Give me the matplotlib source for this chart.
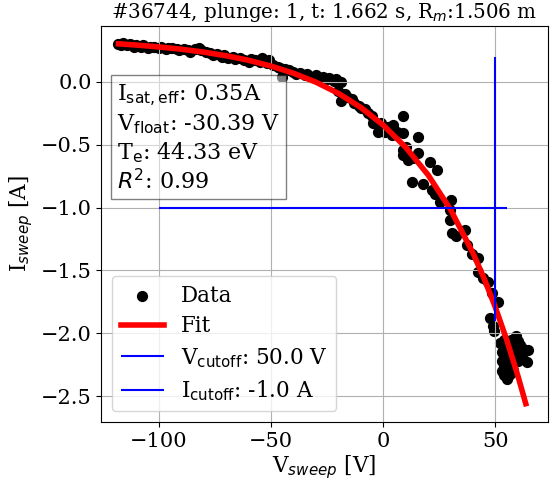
import matplotlib
matplotlib.use('Agg')
import matplotlib.pyplot as plt
import numpy as np

plt.rcParams['font.family'] = 'serif'
plt.rcParams['font.size'] = 16
plt.rcParams['xtick.labelsize'] = 15
plt.rcParams['ytick.labelsize'] = 15
plt.rcParams['axes.labelsize'] = 15.5
plt.rcParams['legend.fontsize'] = 15.5

# measured sweep points
v_data = [-118, -117, -116, -114, -113, -111, -110, -108, -107, -105, -104, -102,
          -100, -99, -97, -96, -94, -92, -91, -89, -87, -86, -84, -82, -81, -79,
          -77, -76, -74, -72, -71, -69, -67, -66, -64, -62, -60, -59, -57, -55,
          -54, -52, -51, -49, -47, -46, -45, -44, -42, -40, -39, -37, -35, -34,
          -32, -30, -29, -27, -25, -24, -22, -21, -20, -19,
          -20, -19, -17, -16, -14, -13, -11, -10, -8, -7, -5, -4.6, -2.4, -1,
          0.8, 2, 3.9, 4.4, 6, 8.8, 8.8, 8.8, 8.8, 10, 11, 12.7, 13.4, 15.5,
          15.5, 17.7, 20.8, 21.7, 23, 23.9, 25.2, 30.4, 29.7, 29.7, 30.6, 32.6,
          36.3, 37.2, 39.5, 42, 42, 44.4, 46.6, 48.4, 51, 47.5, 48.7, 49.3, 59,
          52, 53, 53, 53, 54, 54, 54, 54, 54, 55, 55, 55, 55, 55, 56, 56, 56,
          56, 57, 57, 57, 57, 57, 58, 58, 58, 59, 59, 60, 60, 60, 61, 62, 62,
          63, 64.4, 64, 56, 58]
i_data = [0.30, 0.29, 0.31, 0.29, 0.30, 0.28, 0.29, 0.28, 0.29, 0.27, 0.28, 0.28,
          0.27, 0.28, 0.26, 0.27, 0.27, 0.26, 0.25, 0.26, 0.25, 0.24, 0.26, 0.27,
          0.25, 0.24, 0.23, 0.21, 0.22, 0.20, 0.21, 0.19, 0.20, 0.18, 0.19, 0.17,
          0.16, 0.18, 0.17, 0.16, 0.19, 0.15, 0.17, 0.13, 0.12, 0.11, 0.04, 0.10,
          0.09, 0.08, 0.06, 0.07, 0.05, 0.06, 0.04, 0.05, 0.03, 0.04, 0.02, 0.03,
          0.01, 0.02, -0.01, 0.00,
          -0.07, -0.15, -0.10, -0.12, -0.14, -0.17, -0.19, -0.21, -0.22, -0.25,
          -0.27, -0.33, -0.40, -0.33, -0.40, -0.36, -0.42, -0.34, -0.40, -0.27,
          -0.41, -0.54, -0.58, -0.52, -0.62, -0.80, -0.61, -0.44, -0.57, -0.81,
          -0.64, -0.86, -0.89, -0.70, -0.96, -0.94, -1.02, -1.10, -1.20, -1.23,
          -1.18, -1.30, -1.37, -1.40, -1.51, -1.56, -1.59, -1.68, -1.75, -1.88,
          -1.94, -1.98, -2.02,
          -2.08, -2.15, -2.22, -2.30, -2.05, -2.12, -2.19, -2.26, -2.33, -2.10,
          -2.17, -2.24, -2.31, -2.36, -2.07, -2.14, -2.21, -2.28, -2.05, -2.12,
          -2.19, -2.26, -2.32, -2.09, -2.16, -2.23, -2.11, -2.18, -2.06, -2.14,
          -2.22, -2.09, -2.12, -2.20, -2.14, -2.13, -2.23, -2.33, -2.29]

# fitted characteristic
v_fit = [-118, -110, -100, -90, -80, -70, -60, -50, -40, -30, -20, -10, 0,
         10, 20, 30, 40, 45, 50, 55, 60, 63.5]
i_fit = [0.302, 0.292, 0.277, 0.259, 0.236, 0.207, 0.171, 0.125, 0.068, -0.003,
         -0.092, -0.204, -0.345, -0.521, -0.741, -1.017, -1.363, -1.567, -1.796,
         -2.052, -2.339, -2.56]

v_cutoff = 50.0
i_cutoff = -1.0
isat = 0.35
vfloat = -30.39
te = 44.33
r2 = 0.99

fig = plt.figure(figsize=(5.57, 4.83), dpi=100)
ax = fig.add_axes([0.182, 0.126, 0.801, 0.82])

ax.scatter(v_data, i_data, s=50, color='k', label='Data')
ax.plot(v_fit, i_fit, color='r', lw=4, label='Fit')
ax.vlines(v_cutoff, -1.9, 0.2, color='b', lw=1.5,
          label=r'V$_{\mathrm{cutoff}}$: %.1f V' % v_cutoff)
ax.hlines(i_cutoff, -100, 55, color='b', lw=1.5,
          label=r'I$_{\mathrm{cutoff}}$: %.1f A' % i_cutoff)

txt = (r'I$_{\mathrm{sat,eff}}$: %.2fA' % isat + '\n'
       + r'V$_{\mathrm{float}}$: %.2f V' % vfloat + '\n'
       + r'T$_{\mathrm{e}}$: %.2f eV' % te + '\n'
       + r'$R^2$: %.2f' % r2)
ax.text(0.0345, 0.857, txt, transform=ax.transAxes, va='top', ha='left',
        bbox=dict(facecolor='white', alpha=0.5))

ax.set_xlim(-125.6, 73.2)
ax.set_ylim(-2.707, 0.443)
ax.set_xlabel(r'V$_{sweep}$ [V]', labelpad=2)
ax.set_ylabel(r'I$_{sweep}$ [A]')
ax.set_title(r'#36744, plunge: 1, t: 1.662 s, R$_m$:1.506 m', fontsize=14.3)
ax.grid(True)
ax.legend(loc='lower left', labelspacing=0.4)

fig.savefig('out.png', dpi=100)
